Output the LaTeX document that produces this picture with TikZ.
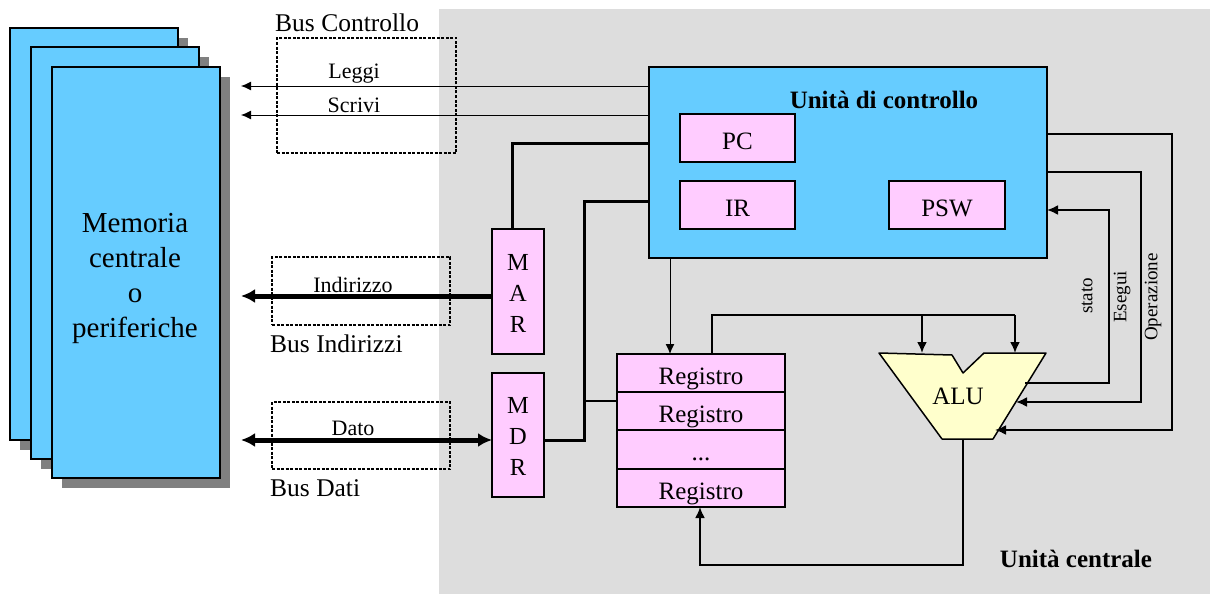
\documentclass[tikz,border=0pt]{standalone}
\usepackage{fontspec}
\setmainfont{Liberation Serif}
\usetikzlibrary{arrows.meta,shadows}

\definecolor{unitgray}{HTML}{DDDDDD}
\definecolor{cardblue}{HTML}{66CCFF}
\definecolor{regpink}{HTML}{FFCCFF}
\definecolor{alucream}{HTML}{FFFFCC}
\definecolor{shadowgray}{HTML}{808080}

\tikzset{
    cardbox/.style={draw=black, line width=2pt, fill=cardblue, inner sep=0pt, outer sep=0pt,
        minimum width=168, general shadow={fill=shadowgray, shadow xshift=10pt, shadow yshift=-10pt}},
    regbox/.style={draw=black, line width=2pt, fill=regpink, inner sep=0pt, outer sep=0pt,
        text height=22pt, text depth=0pt, font=\fontsize{25}{25}\selectfont},
    letterbox/.style={regbox, align=center, text height=81pt, font=\fontsize{24.5}{31}\selectfont},
    busbox/.style={draw=black, line width=1.5pt, dash pattern=on 3pt off 1.5pt, inner sep=0pt, outer sep=0pt},
    buslabel/.style={inner sep=0pt, font=\fontsize{25.5}{25.5}\selectfont},
    boldlabel/.style={inner sep=0pt, font=\bfseries\fontsize{25}{25}\selectfont},
    wirelabel/.style={inner sep=0pt, font=\fontsize{22}{22}\selectfont},
    sidelabel/.style={inner sep=0pt, rotate=90, font=\fontsize{19}{19}\selectfont},
    thinwire/.style={line width=1pt, -{Latex[length=10pt,width=9pt]}},
    midwire/.style={line width=2pt, -{Latex[length=11pt,width=10pt]}},
    plainwire/.style={line width=3pt},
    buswire/.style={line width=5pt, -{Latex[length=14pt,width=14pt]}},
    dualwire/.style={line width=5pt, {Latex[length=14pt,width=14pt]}-{Latex[length=14pt,width=14pt]}},
}

\begin{document}
\begin{tikzpicture}[x=1pt, y=-1pt]
    \useasboundingbox (0,0) rectangle (1210,594);

    % Grey area of the central unit
    \fill[unitgray] (439,9) rectangle (1210,594);

    % Stacked memory cards
    \node[cardbox, minimum height=412] (card1) at (94,234) {};
    \node[cardbox, minimum height=412] (card2) at (115,253) {};
    \node[cardbox, minimum height=411] (card3) at (135.5,272.5) {};
    \node[align=center, inner sep=0pt, font=\fontsize{29}{35}\selectfont] (memtext) at (135,278)
        {Memoria\\centrale\\o\\periferiche};

    % Dashed bus frames
    \node[busbox, minimum width=179, minimum height=115] (ctrlbus) at (366.5,95.5) {};
    \node[busbox, minimum width=178, minimum height=68] (addrbus) at (361,291) {};
    \node[busbox, minimum width=178, minimum height=67] (databus) at (361,435.5) {};

    % Control unit and its registers
    \node[draw=black, line width=2pt, fill=cardblue, inner sep=0pt, outer sep=0pt,
        minimum width=398, minimum height=191] (cu) at (848,162.5) {};
    \node[boldlabel] (cutitle) at (884,100) {Unità di controllo};
    \node[regbox, minimum width=115, minimum height=48] (pc) at (737.5,138) {PC};
    \node[regbox, minimum width=115, minimum height=48] (ir) at (737.5,205) {IR};
    \node[regbox, minimum width=116, minimum height=48] (psw) at (947,205) {PSW};

    % MAR and MDR
    \node[letterbox, minimum width=52, minimum height=125] (mar) at (518,291.5) {M\\A\\R};
    \node[letterbox, minimum width=52, minimum height=124] (mdr) at (518,435) {M\\D\\R};

    % Register file
    \node[regbox, minimum width=168, minimum height=38] (reg1) at (701,373) {Registro};
    \node[regbox, minimum width=168, minimum height=38] (reg2) at (701,411) {Registro};
    \node[regbox, minimum width=168, minimum height=39] (reg3) at (701,449.5) {...};
    \node[regbox, minimum width=168, minimum height=38] (reg4) at (701,488) {Registro};

    % ALU outline and name
    \draw[line width=1.5pt, fill=alucream, line join=round] (879,353) -- (952,355) -- (963,373)
        -- (984,353) -- (1046,353) -- (993,439) -- (942,439) -- cycle;
    \node[inner sep=0pt, font=\fontsize{25}{25}\selectfont] (alu) at (958,396) {ALU};
    \coordinate (aluin1) at (922,353);
    \coordinate (aluin2) at (1015,353);
    \coordinate (alustato) at (1025,383);
    \coordinate (aluesegui) at (1016,402);
    \coordinate (aluoper) at (995,430);
    \coordinate (aluout) at (963,439);

    % Free ends of the buses
    \coordinate (leggiend) at (241,86);
    \coordinate (scriviend) at (241,115);
    \coordinate (addrend) at (241,296);
    \coordinate (dataend) at (241,440);

    % Control signals towards the memory
    \draw[thinwire] (cu.west |- leggiend) -- (leggiend);
    \draw[thinwire] (cu.west |- scriviend) -- (scriviend);

    % Address and data buses
    \draw[buswire] (mar.west |- addrend) -- (addrend);
    \draw[dualwire] (mdr.west |- dataend) -- (dataend);

    % Internal wires
    \draw[plainwire] (512,229) -- (512,143) -- (cu.west |- 512,143);
    \draw[plainwire] (mdr.east |- dataend) -- (584,440) -- (584,201) -- (cu.west |- 584,201);
    \draw[line width=1.5pt] (reg2.west |- 584,401) -- (584,401);
    \draw[thinwire] (670,258) -- (670,354);
    \draw[line width=2pt] (712,354) -- (712,315) -- (1015,315);
    \draw[midwire] (922,315) -- (aluin1);
    \draw[midwire] (1015,315) -- (aluin2);
    \draw[midwire] (alustato) -- (1109,383) -- (1109,210) -- (cu.east |- 1109,210);
    \draw[midwire] (cu.east |- 1141,172) -- (1141,172) -- (1141,402) -- (aluesegui);
    \draw[midwire] (cu.east |- 1172,134) -- (1172,134) -- (1172,430) -- (aluoper);
    \draw[midwire] (aluout) -- (963,565) -- (700,565) -- (reg4.south -| 700,565);

    % Bus names
    \node[buslabel, anchor=west] (ctrlname) at (275,23) {Bus Controllo};
    \node[buslabel, anchor=west] (addrname) at (270,344) {Bus Indirizzi};
    \node[buslabel, anchor=west] (dataname) at (270,488) {Bus Dati};
    \node[boldlabel] (cpuname) at (1076,559) {Unità centrale};

    % Signal names
    \node[wirelabel] (leggi) at (354,74) {Leggi};
    \node[wirelabel] (scrivi) at (354,105) {Scrivi};
    \node[wirelabel] (indirizzo) at (353,285) {Indirizzo};
    \node[wirelabel] (dato) at (353,428) {Dato};
    \node[sidelabel] (stato) at (1087,296) {stato};
    \node[sidelabel] (esegui) at (1122,297) {Esegui};
    \node[sidelabel] (operazione) at (1153,297) {Operazione};

\end{tikzpicture}
\end{document}
